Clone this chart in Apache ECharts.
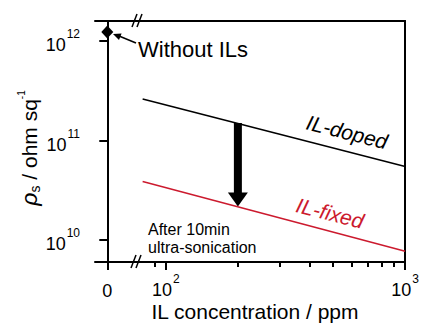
<!DOCTYPE html>
<html><head><meta charset="utf-8">
<script src="https://cdn.jsdelivr.net/npm/echarts@6/dist/echarts.min.js"></script>
<style>html,body{margin:0;padding:0;background:#fff}#c{width:422px;height:323px}</style>
</head><body><div id="c"></div>
<script>
// ---- data ----
const dopedX = [80, 1000];
const dopedY = [2.61e11, 5.48e10];
const fixedX = [80, 1000];
const fixedY = [3.87e10, 7.74e9];
const refX = [0];
const refY = [1.23e12];
const arrowX = [200];
const arrowFrom = [1.5e11];
const arrowTo = [2.17e10];
const yTickValues = [1e10, 1e11, 1e12];
const xMajorTicks = [100, 1000];
const xMinorTicks = [90, 200, 300, 400, 500, 600, 700, 800, 900];
const xZeroTick = [0];

const FONT = "'Liberation Sans', Arial, sans-serif";
const RED = '#cc1a2e';
const yMin = 6.03e9, yMax = 1.585e12;
const xLogMin = 76.5, xLogMax = 1000;

function pow10Label(v) {
  const e = Math.round(Math.log10(v));
  return '{base|10}{sup|' + e + '}';
}
const powRich = {
  base: {fontSize: 18, fontFamily: FONT, color: '#000', lineHeight: 26, verticalAlign: 'bottom'},
  sup: {fontSize: 12, fontFamily: FONT, color: '#000', lineHeight: 26, verticalAlign: 'top', padding: [0, 0, 0, 1]}
};

const chart = echarts.init(document.getElementById('c'), null, {renderer: 'svg'});
const axisLine = {show: true, lineStyle: {color: '#000', width: 2}};
const option = {
  animation: false,
  grid: [
    {left: 95, width: 43, top: 21, bottom: 61},
    {left: 138, right: 14, top: 21, bottom: 61}
  ],
  xAxis: [
    {type: 'value', gridIndex: 0, min: -1, max: 2.5, position: 'bottom',
     axisLine: axisLine, splitLine: {show: false},
     axisTick: {show: true, customValues: xZeroTick, length: 8, lineStyle: {width: 2, color: '#000'}},
     axisLabel: {customValues: xZeroTick, formatter: () => '0', fontSize: 18, fontFamily: FONT, color: '#000', margin: 20}},
    {type: 'value', gridIndex: 0, min: -1, max: 2.5, position: 'top',
     axisLine: axisLine, splitLine: {show: false}, axisTick: {show: false}, axisLabel: {show: false}},
    {type: 'log', gridIndex: 1, min: xLogMin, max: xLogMax, position: 'bottom',
     axisLine: axisLine, splitLine: {show: false},
     axisTick: {show: true, customValues: xMajorTicks, length: 8, lineStyle: {width: 2, color: '#000'}},
     axisLabel: {customValues: xMajorTicks, formatter: pow10Label, rich: powRich, fontSize: 18, fontFamily: FONT, color: '#000', margin: 11}},
    {type: 'log', gridIndex: 1, min: xLogMin, max: xLogMax, position: 'bottom',
     axisLine: {show: false}, splitLine: {show: false},
     axisTick: {show: true, customValues: xMinorTicks, length: 5, lineStyle: {width: 2, color: '#000'}},
     axisLabel: {show: false}},
    {type: 'log', gridIndex: 1, min: xLogMin, max: xLogMax, position: 'top',
     axisLine: axisLine, splitLine: {show: false}, axisTick: {show: false}, axisLabel: {show: false}}
  ],
  yAxis: [
    {type: 'log', gridIndex: 0, min: yMin, max: yMax, position: 'left',
     axisLine: axisLine, splitLine: {show: false},
     axisTick: {show: true, customValues: yTickValues, length: 8, lineStyle: {width: 2, color: '#000'}},
     axisLabel: {customValues: yTickValues, formatter: pow10Label, rich: powRich, fontSize: 18, fontFamily: FONT, color: '#000', margin: 15}},
    {type: 'log', gridIndex: 1, min: yMin, max: yMax, position: 'right',
     axisLine: axisLine, splitLine: {show: false}, axisTick: {show: false}, axisLabel: {show: false}}
  ],
  series: [
    {type: 'scatter', xAxisIndex: 0, yAxisIndex: 0, symbol: 'diamond', symbolSize: [12, 13],
     itemStyle: {color: '#000', opacity: 1}, data: refX.map((x, i) => [x, refY[i]]), clip: false, silent: true, z: 5},
    {type: 'line', xAxisIndex: 2, yAxisIndex: 1, symbol: 'none', lineStyle: {color: '#000', width: 1.5},
     data: dopedX.map((x, i) => [x, dopedY[i]])},
    {type: 'line', xAxisIndex: 2, yAxisIndex: 1, symbol: 'none', lineStyle: {color: RED, width: 1.5},
     data: fixedX.map((x, i) => [x, fixedY[i]])},
    {type: 'custom', xAxisIndex: 2, yAxisIndex: 1,
     data: arrowX.map((x, i) => [x, arrowFrom[i], arrowTo[i]]),
     encode: {x: 0, y: [1, 2]},
     renderItem: function (params, api) {
       const p1 = api.coord([api.value(0), api.value(1)]);
       const p2 = api.coord([api.value(0), api.value(2)]);
       const hw = 4, headH = 14, headW = 10;
       return {type: 'group', children: [
         {type: 'rect', shape: {x: p1[0] - hw, y: p1[1], width: hw * 2, height: p2[1] - headH - p1[1] + 1},
          style: {fill: '#000'}},
         {type: 'polygon', shape: {points: [[p2[0] - headW, p2[1] - headH], [p2[0] + headW, p2[1] - headH], [p2[0], p2[1]]]},
          style: {fill: '#000'}}
       ]};
     }}
  ],
  graphic: [
    {type: 'text', x: 138, y: 49, style: {text: 'Without ILs', fontSize: 22, fontFamily: FONT, fill: '#000', verticalAlign: 'middle'}},
    {type: 'line', shape: {x1: 136, y1: 43, x2: 119, y2: 36}, style: {stroke: '#000', lineWidth: 1.5}},
    {type: 'polygon', shape: {points: [[121.6, 33.6], [119.0, 40.0], [113, 34]]}, style: {fill: '#000'}},
    {type: 'text', x: 347, y: 132, rotation: -0.25,
     style: {text: 'IL-doped', fontSize: 21, fontStyle: 'italic', fontFamily: FONT, fill: '#000', align: 'center', verticalAlign: 'middle'}},
    {type: 'text', x: 330, y: 213, rotation: -0.25,
     style: {text: 'IL-fixed', fontSize: 21, fontStyle: 'italic', fontFamily: FONT, fill: RED, align: 'center', verticalAlign: 'middle'}},
    {type: 'text', x: 148, y: 220,
     style: {text: 'After 10min\nultra-sonication', fontSize: 16, lineHeight: 18, fontFamily: FONT, fill: '#000', verticalAlign: 'top'}},
    {type: 'text', x: 255, y: 311,
     style: {text: 'IL concentration / ppm', fontSize: 21, fontFamily: FONT, fill: '#000', align: 'center', verticalAlign: 'middle'}},
    {type: 'text', x: 29, y: 148, rotation: Math.PI / 2,
     style: {text: '{r|ρ}{s|s}{n| / ohm sq}{p|-1}', align: 'center', verticalAlign: 'middle',
       rich: {
         r: {fontSize: 23, fontStyle: 'italic', fontFamily: FONT, fill: '#000', lineHeight: 26, verticalAlign: 'middle'},
         s: {fontSize: 14, fontFamily: FONT, fill: '#000', lineHeight: 26, verticalAlign: 'bottom'},
         n: {fontSize: 21, fontFamily: FONT, fill: '#000', lineHeight: 26, verticalAlign: 'middle'},
         p: {fontSize: 10, fontFamily: FONT, fill: '#000', lineHeight: 26, verticalAlign: 'top'}
       }}},
    {type: 'line', shape: {x1: 132, y1: 27, x2: 137, y2: 14}, style: {stroke: '#000', lineWidth: 1.5}},
    {type: 'line', shape: {x1: 137, y1: 27, x2: 142, y2: 14}, style: {stroke: '#000', lineWidth: 1.5}},
    {type: 'line', shape: {x1: 131, y1: 268, x2: 136, y2: 255}, style: {stroke: '#000', lineWidth: 1.5}},
    {type: 'line', shape: {x1: 136, y1: 268, x2: 141, y2: 255}, style: {stroke: '#000', lineWidth: 1.5}}
  ]
};
chart.setOption(option);
</script>
</body></html>
